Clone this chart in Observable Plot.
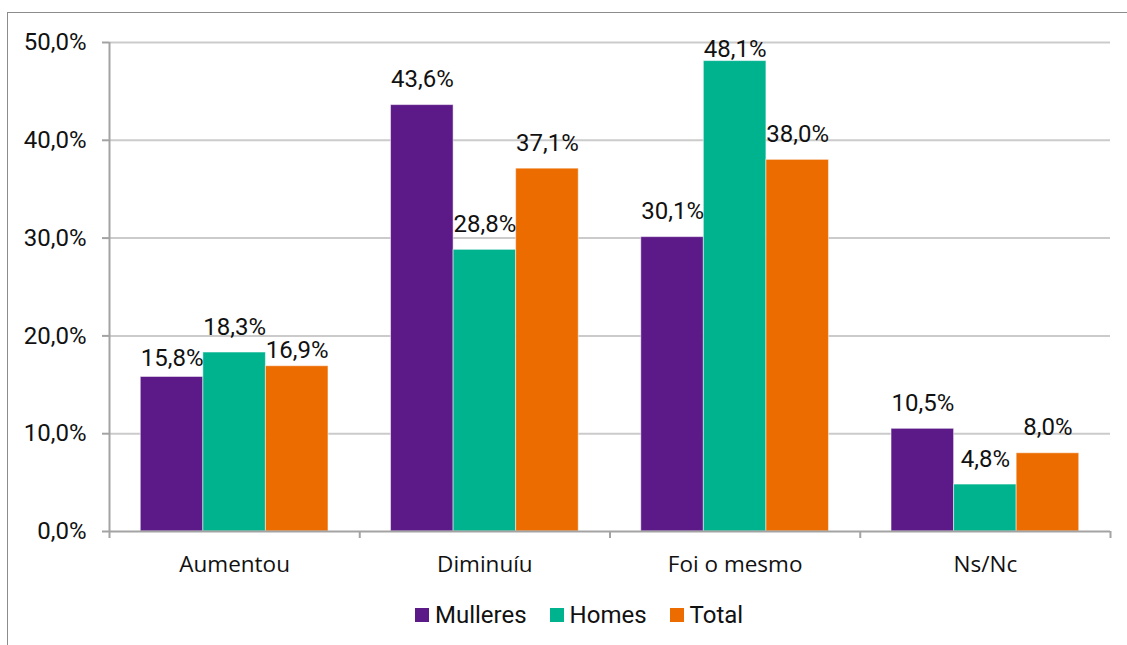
<!DOCTYPE html>
<html>
<head>
<meta charset="utf-8">
<script src="https://cdn.jsdelivr.net/npm/d3@7"></script>
<script src="https://cdn.jsdelivr.net/npm/@observablehq/plot@0.6"></script>
<style>
  html, body { margin: 0; padding: 0; background: #fff; }
  #wrap { position: relative; width: 1127px; height: 645px; overflow: hidden; font-family: Roboto, sans-serif; }
  #frame { position: absolute; left: 7px; top: 12px; width: 1300px; height: 800px; border-left: 1.5px solid #8c8c8c; border-top: 1.5px solid #8c8c8c; }
  #chart { position: absolute; left: 0; top: 0; }
  #legend { position: absolute; left: 415px; top: 600px; height: 30px; display: flex; align-items: center; font-family: Roboto, sans-serif; font-size: 24px; color: #111; }
  .item { display: flex; align-items: center; margin-right: 23px; }
  .sw { width: 14px; height: 14px; margin-right: 6px; }
</style>
</head>
<body>
<div id="wrap">
  <div id="frame"></div>
  <div id="chart"></div>
  <div id="legend"></div>
</div>
<script>
const categories = ["Aumentou", "Diminuíu", "Foi o mesmo", "Ns/Nc"];
const series = ["Mulleres", "Homes", "Total"];
const mulleres = [15.8, 43.6, 30.1, 10.5];
const homes = [18.3, 28.8, 48.1, 4.8];
const total = [16.9, 37.1, 38.0, 8.0];
const yTicks = [0, 10, 20, 30, 40, 50];
const colors = ["#5c1a88", "#00b38f", "#ec6c00"];

const valuesBySeries = [mulleres, homes, total];
const rows = [];
categories.forEach((c, ci) => {
  series.forEach((s, si) => {
    rows.push({category: c, ci, series: s, si, value: valuesBySeries[si][ci]});
  });
});

// label nudges (pixels) where the original shifted labels to avoid overlaps
const nudge = {"Foi o mesmo|Homes": -4, "Aumentou|Total": -8, "Aumentou|Mulleres": -11};
const defaultDy = -18;
const fmt = v => v.toFixed(1).replace(".", ",") + "%";
const groupWidth = 0.75, barW = groupWidth / series.length;
const bx1 = d => d.ci + (1 - groupWidth) / 2 + d.si * barW;
const bx2 = d => bx1(d) + barW;
const bxc = d => bx1(d) + barW / 2;

const dyGroups = d3.group(rows, d => nudge[d.category + "|" + d.series] ?? defaultDy);
const labelMarks = Array.from(dyGroups, ([dy, arr]) =>
  Plot.text(arr, {x: bxc, y: "value", text: d => fmt(d.value), lineAnchor: "bottom", dy, fill: "#111", fontSize: 24})
);

const axisColor = "#a3a3a3";
const chart = Plot.plot({
  width: 1127,
  height: 590,
  marginLeft: 109,
  marginRight: 17,
  marginTop: 42,
  marginBottom: 59,
  style: {fontFamily: "Roboto, sans-serif", fontSize: "24px", color: "#111", background: "transparent"},
  x: {type: "linear", domain: [0, categories.length], axis: null},
  y: {domain: [0, 50], axis: null},
  color: {domain: series, range: colors},
  marks: [
    Plot.ruleY(yTicks.filter(t => t > 0), {stroke: "#cbcbcb", strokeWidth: 2}),
    Plot.rectY(rows, {x1: bx1, x2: bx2, y1: 0, y2: "value", fill: "series", stroke: "#ffffff", strokeOpacity: 0.5, strokeWidth: 1}),
    Plot.ruleX([0], {stroke: axisColor, strokeWidth: 2}),
    Plot.ruleY([0], {stroke: axisColor, strokeWidth: 2}),
    Plot.axisY({ticks: yTicks, tickSize: 7, tickPadding: 16, stroke: axisColor, strokeWidth: 2, tickFormat: t => t.toFixed(1).replace(".", ",") + "%", fontSize: 24, label: null, fill: "#111"}),
    Plot.axisX({ticks: d3.range(categories.length + 1), tickSize: 7, stroke: axisColor, strokeWidth: 2, tickFormat: () => "", label: null}),
    Plot.text(categories, {x: (d, i) => i + 0.5, y: 0, dy: 40, lineAnchor: "bottom", text: d => d, fontFamily: "'Open Sans', sans-serif", fontSize: 22.5, fill: "#111"}),
    ...labelMarks
  ]
});
document.getElementById("chart").appendChild(chart);

const legend = document.getElementById("legend");
series.forEach((s, i) => {
  const item = document.createElement("div");
  item.className = "item";
  const sw = document.createElement("div");
  sw.className = "sw";
  sw.style.background = colors[i];
  const lab = document.createElement("span");
  lab.textContent = s;
  item.appendChild(sw);
  item.appendChild(lab);
  legend.appendChild(item);
});
</script>
</body>
</html>
